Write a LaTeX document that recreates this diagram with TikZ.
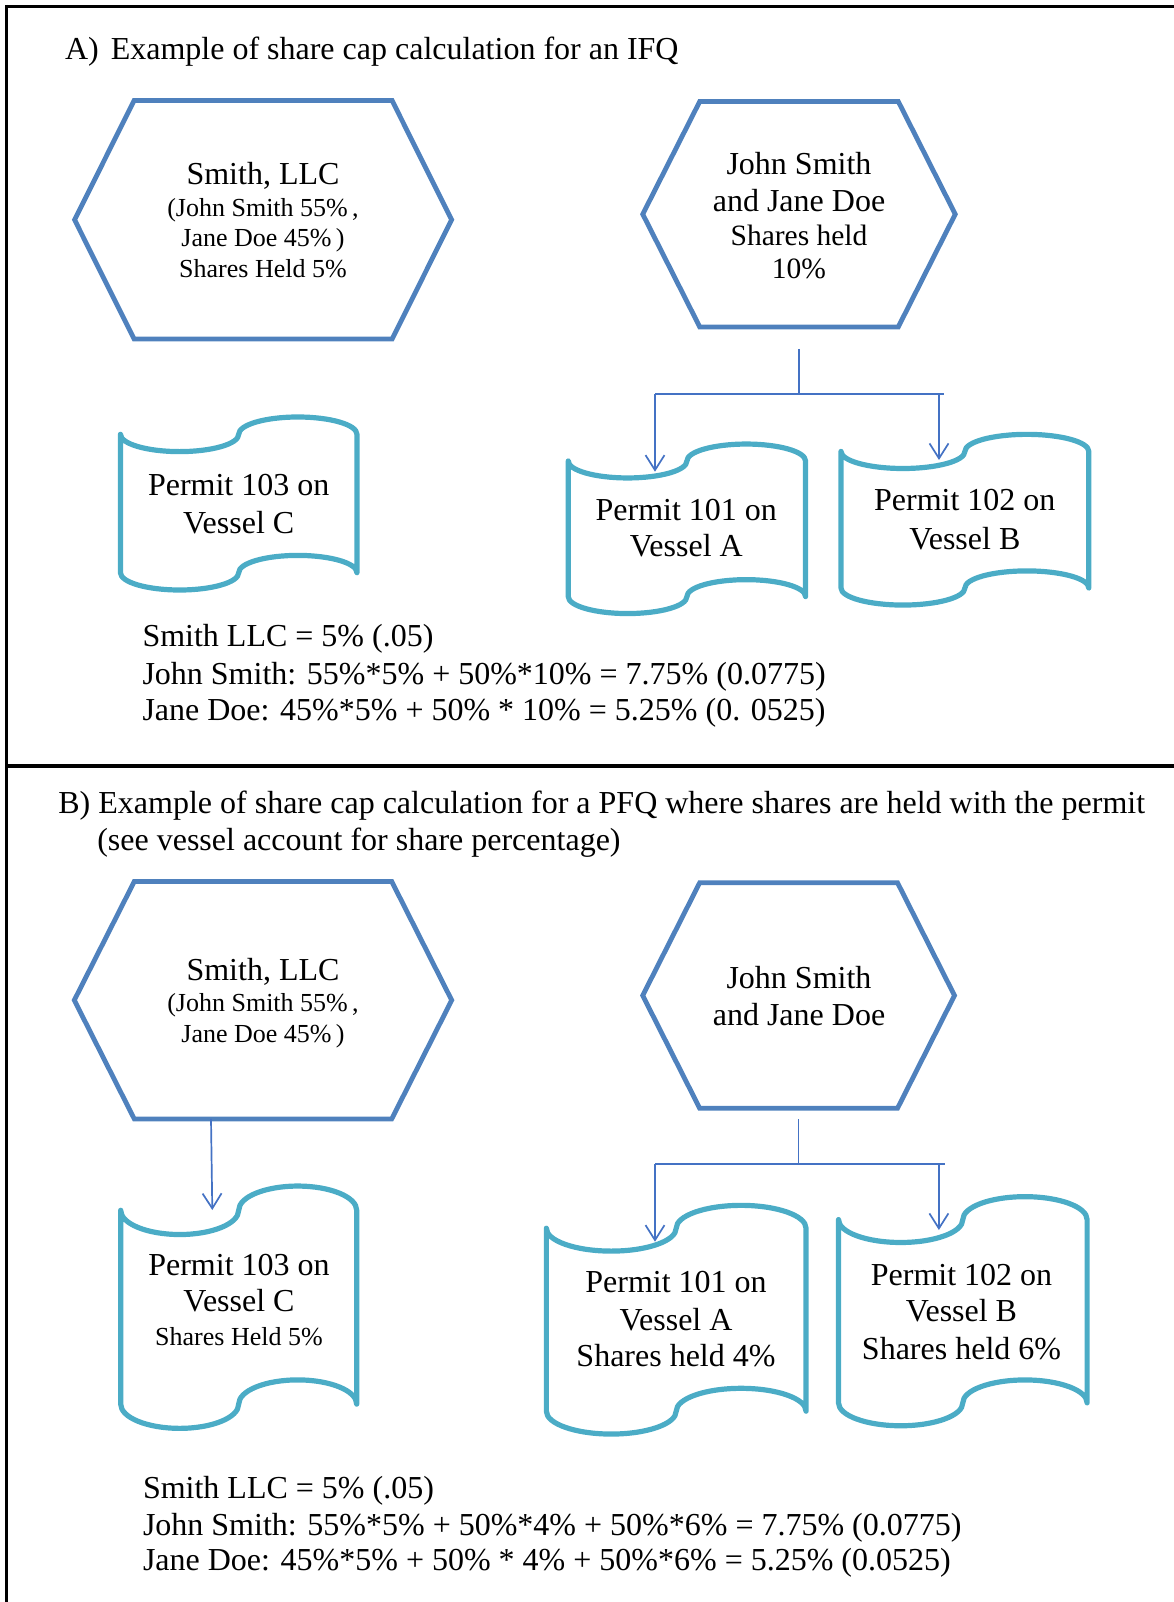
\documentclass[tikz,border=0pt]{standalone}
\usepackage{fontspec}
\setmainfont{Liberation Serif}
\usetikzlibrary{arrows.meta}
\definecolor{hexblue}{HTML}{4F81BD}
\definecolor{tapecyan}{HTML}{4BACC6}
\definecolor{connblue}{HTML}{4472C4}
\tikzset{
  txtbig/.style={anchor=base, inner sep=0pt, outer sep=0pt, font=\fontsize{32}{38}\selectfont},
  txtmid/.style={txtbig, font=\fontsize{29.5}{35}\selectfont},
  txtsmall/.style={txtbig, font=\fontsize{26}{31}\selectfont},
  txtleft/.style={txtbig, anchor=base west},
  hexline/.style={draw=hexblue, line width=4.8pt, line join=miter},
  tapeline/.style={draw=tapecyan, line width=5.2pt, line join=round, line cap=round},
  conn/.style={draw=connblue, line width=1.7pt},
  arr/.style={conn, -{Straight Barb[length=15pt, width=19pt]}},
  framel/.style={draw=black, line width=2.8pt},
  holder/.style={inner sep=0pt, outer sep=0pt, draw=none},
}
% name, cx, cy, w, h, inset
\newcommand\hexshape[6]{%
  \node[holder, minimum width=#4pt, minimum height=#5pt] (#1) at (#2,#3) {};
  \draw[hexline] (#1.west) -- ([xshift=#6pt]#1.north west) -- ([xshift=-#6pt]#1.north east)
    -- (#1.east) -- ([xshift=-#6pt]#1.south east) -- ([xshift=#6pt]#1.south west) -- cycle;
}
% name, cx, cy, w, h
\newcommand\tapeshape[5]{%
  \node[holder, minimum width=#4pt, minimum height=#5pt] (#1) at (#2,#3) {};
  \draw[tapeline] ([yshift={-0.1*#5pt}]#1.north west)
    arc[start angle=180, end angle=360, x radius={0.25*#4pt}, y radius={0.1*#5pt}]
    arc[start angle=180, end angle=0, x radius={0.25*#4pt}, y radius={0.1*#5pt}]
    -- ([yshift={0.1*#5pt}]#1.south east)
    arc[start angle=0, end angle=180, x radius={0.25*#4pt}, y radius={0.1*#5pt}]
    arc[start angle=0, end angle=-180, x radius={0.25*#4pt}, y radius={0.1*#5pt}]
    -- cycle;
}
\begin{document}
\begin{tikzpicture}[x=1pt,y=-1pt]
\useasboundingbox (0,0) rectangle (1174,1602);
% frame
\coordinate (frTL) at (5,6.5);
\coordinate (frTR) at (1174,6.5);
\coordinate (frLT) at (6.7,5);
\coordinate (frLB) at (6.7,1602);
\coordinate (frML) at (6.7,766);
\coordinate (frMR) at (1174,766);
\draw[framel] (frTL) -- (frTR);
\draw[framel] (frLT) -- (frLB);
\draw[framel, line width=3.4pt] (frML) -- (frMR);

% ---------- Part A ----------
\node[txtleft] (titleA) at (65,59.5) {A)\hspace{12pt}Example of share cap calculation for an IFQ};

\hexshape{hexLA}{263.1}{219.8}{377}{238.5}{59.5}
\node[txtbig]   (hLA1) at (263,185)   {Smith, LLC};
\node[txtsmall] (hLA2) at (263,216.7) {(John Smith 55\%\,,};
\node[txtsmall] (hLA3) at (263,246.7) {Jane Doe 45\%\,)};
\node[txtsmall] (hLA4) at (263,277.3) {Shares Held 5\%};

\hexshape{hexRA}{799}{214.2}{312.5}{225.5}{57}
\node[txtbig] (hRA1) at (799,175)   {John Smith};
\node[txtbig] (hRA2) at (799,211.7) {and Jane Doe};
\node[txtmid] (hRA3) at (799,245.7) {Shares held};
\node[txtmid] (hRA4) at (799,279)   {10\%};

\tapeshape{tapeCA}{238.7}{503.5}{236.5}{173}
\node[txtbig] (tCA1) at (238.7,495)   {Permit 103 on};
\node[txtbig] (tCA2) at (238.7,533.3) {Vessel C};

\tapeshape{tapeAA}{686.9}{528.8}{237.3}{169.5}
\node[txtbig] (tAA1) at (686.3,520)   {Permit 101 on};
\node[txtbig] (tAA2) at (686.3,556.7) {Vessel A};

\tapeshape{tapeBA}{964.9}{519.7}{247.8}{170.7}
\node[txtbig] (tBA1) at (964.8,510.7) {Permit 102 on};
\node[txtbig] (tBA2) at (964.8,549.3) {Vessel B};

\coordinate (srcA) at ([yshift=-22pt]hexRA.south);
\coordinate (forkA) at (799,394.3);
\coordinate (barAL) at (655,394.3);
\coordinate (barAR) at (944.4,394.3);
\coordinate (tipAA) at (655,471.7);
\coordinate (tipBA) at (939,460);
\draw[conn] (srcA) -- (forkA);
\draw[conn] (barAL) -- (barAR);
\draw[arr] (barAL) -- (tipAA);
\draw[arr] (tipBA |- forkA) -- (tipBA);

\node[txtleft] (fA1) at (142.5,646.7) {Smith LLC = 5\% (.05)};
\node[txtleft] (fA2) at (142.5,684)   {John Smith: 55\%*5\% + 50\%*10\% = 7.75\% (0.0775)};
\node[txtleft] (fA3) at (142.5,720.7) {Jane Doe: 45\%*5\% + 50\% * 10\% = 5.25\% (0. 0525)};

% ---------- Part B ----------
\node[txtleft] (titleB1) at (58.4,813.3) {B) Example of share cap calculation for a PFQ where shares are held with the permit};
\node[txtleft] (titleB2) at (97.3,850.7) {(see vessel account for share percentage)};

\hexshape{hexLB}{263}{1000.2}{377.4}{237.5}{60}
\node[txtbig]   (hLB1) at (263,980)    {Smith, LLC};
\node[txtsmall] (hLB2) at (263,1011.7) {(John Smith 55\%\,,};
\node[txtsmall] (hLB3) at (263,1042.7) {Jane Doe 45\%\,)};

\hexshape{hexRB}{798.6}{995.5}{311.8}{225.6}{57}
\node[txtbig] (hRB1) at (799,988.3) {John Smith};
\node[txtbig] (hRB2) at (799,1025)  {and Jane Doe};

\tapeshape{tapeCB}{238.7}{1307.2}{236}{242.3}
\node[txtbig]   (tCB1) at (239,1275)   {Permit 103 on};
\node[txtbig]   (tCB2) at (239,1311.7) {Vessel C};
\node[txtsmall] (tCB3) at (239,1345)   {Shares Held 5\%};

\tapeshape{tapeAB}{676.2}{1319.7}{259.7}{228.7}
\node[txtbig] (tAB1) at (676,1292.7) {Permit 101 on};
\node[txtbig] (tAB2) at (676,1330)   {Vessel A};
\node[txtbig] (tAB3) at (676,1366.7) {Shares held 4\%};

\tapeshape{tapeBB}{962.8}{1311.2}{248.6}{229.1}
\node[txtbig] (tBB1) at (961.5,1285)   {Permit 102 on};
\node[txtbig] (tBB2) at (961.5,1321.7) {Vessel B};
\node[txtbig] (tBB3) at (961.5,1359.3) {Shares held 6\%};

\coordinate (srcC) at ([xshift=-52pt]hexLB.south);
\coordinate (tipCB) at (212.3,1210);
\draw[arr] (srcC) -- (tipCB);

\coordinate (srcB) at ([yshift=-11pt]hexRB.south);
\coordinate (forkB) at (798.6,1164.3);
\coordinate (barBL) at (655,1164.3);
\coordinate (barBR) at (945,1164.3);
\coordinate (tipAB) at (655,1241.7);
\coordinate (tipBB) at (938.9,1230);
\draw[conn] (srcB) -- (forkB);
\draw[conn] (barBL) -- (barBR);
\draw[arr] (barBL) -- (tipAB);
\draw[arr] (tipBB |- forkB) -- (tipBB);

\node[txtleft] (fB1) at (143,1498.3) {Smith LLC = 5\% (.05)};
\node[txtleft] (fB2) at (143,1535)   {John Smith: 55\%*5\% + 50\%*4\% + 50\%*6\% = 7.75\% (0.0775)};
\node[txtleft] (fB3) at (143,1570.7) {Jane Doe: 45\%*5\% + 50\% * 4\% + 50\%*6\% = 5.25\% (0.0525)};
\end{tikzpicture}
\end{document}
